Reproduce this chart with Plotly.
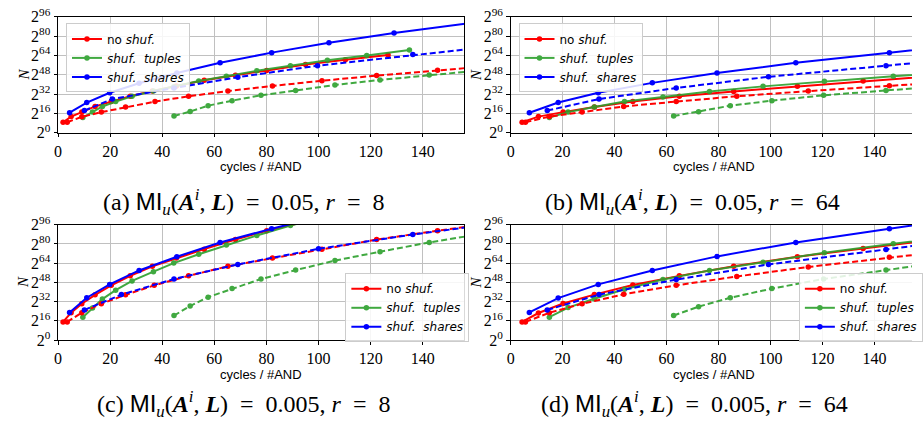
import plotly.graph_objects as go

# ---------------------------------------------------------------------------
# Data: x = cycles / #AND, y = log2(N).  "hi" = solid curves, "lo" = dashed.
# Points past the axis limits keep the curves running to the frame edge.
# ---------------------------------------------------------------------------

# (a) MI = 0.05, r = 8
a_plain_hi_x = [1.9, 5.0, 9.1, 14.2, 20.4, 27.7, 36.2, 45.4, 56.1, 68.1, 80.1, 95.0, 110.3, 126.7]
a_plain_hi_y = [8.7, 13.4, 17.1, 21.8, 25.8, 30.2, 34.5, 38.7, 43.4, 47.6, 51.6, 56.5, 60.5, 64.4]
a_plain_lo_x = [3.5, 9.1, 16.6, 25.9, 37.2, 50.1, 65.2, 82.3, 101.3, 122.3, 145.7, 171.0]
a_plain_lo_y = [8.7, 13.2, 17.1, 21.3, 25.8, 30.2, 34.5, 38.7, 43.1, 47.3, 51.8, 56.2]
a_tup_hi_x = [9.5, 13.2, 17.0, 22.1, 28.4, 36.6, 44.4, 54.0, 64.6, 76.3, 89.2, 103.4, 118.5, 134.9]
a_tup_hi_y = [12.6, 17.1, 21.8, 25.8, 30.2, 34.5, 38.1, 42.9, 46.8, 51.3, 55.5, 60.0, 63.9, 68.4]
a_tup_lo_x = [44.5, 50.7, 57.6, 66.8, 77.9, 91.2, 106.3, 123.6, 142.5, 166.0]
a_tup_lo_y = [13.9, 17.6, 22.4, 26.6, 31.0, 35.0, 39.5, 43.7, 47.9, 52.4]
a_sh_hi_x = [4.4, 11.0, 19.8, 31.1, 45.6, 62.2, 82.0, 104.0, 129.0, 159.5]
a_sh_hi_y = [16.6, 25.0, 33.1, 41.0, 49.4, 57.9, 66.3, 74.4, 82.6, 91.0]
a_sh_lo_x = [10.1, 20.8, 44.5, 69.0, 99.6, 136.2, 178.0]
a_sh_lo_y = [18.4, 27.9, 37.1, 46.0, 55.5, 64.7, 74.0]

# (b) MI = 0.05, r = 64
b_plain_hi_x = [4.4, 10.7, 20.2, 32.2, 47.0, 64.9, 85.8, 110.3, 135.6, 165.0]
b_plain_hi_y = [8.7, 13.4, 17.1, 21.3, 25.8, 30.2, 34.2, 38.4, 42.9, 47.3]
b_plain_lo_x = [5.7, 14.9, 27.5, 43.5, 63.7, 87.0, 114.5, 145.7, 178.0]
b_plain_lo_y = [8.7, 13.4, 17.1, 21.8, 25.8, 30.2, 34.5, 38.9, 43.3]
b_tup_hi_x = [14.9, 22.1, 32.2, 43.8, 58.6, 76.5, 97.1, 120.7, 147.2, 177.0]
b_tup_hi_y = [12.6, 17.1, 21.3, 25.8, 29.7, 34.2, 38.4, 42.6, 46.8, 51.0]
b_tup_lo_x = [62.7, 72.3, 84.5, 100.5, 120.4, 144.4, 170.0]
b_tup_lo_y = [13.9, 17.4, 22.4, 26.6, 31.0, 35.0, 39.3]
b_sh_hi_x = [7.2, 18.3, 33.7, 54.5, 79.4, 109.7, 145.7, 183.0]
b_sh_hi_y = [16.6, 25.0, 33.1, 41.3, 49.4, 57.9, 66.3, 74.5]
b_sh_lo_x = [14.1, 34.0, 63.7, 99.2, 144.4, 190.0]
b_sh_lo_y = [18.4, 27.9, 37.1, 46.3, 55.5, 64.7]

# (c) MI = 0.005, r = 8
c_plain_hi_x = [1.9, 5.0, 9.1, 14.2, 20.4, 27.7, 36.2, 45.4, 56.1, 68.1, 80.1, 95.0]
c_plain_hi_y = [15.1, 22.8, 30.2, 37.6, 45.5, 53.4, 61.4, 68.2, 75.6, 83.6, 91.0, 98.5]
c_plain_lo_x = [3.5, 9.1, 16.6, 25.9, 36.9, 50.1, 65.2, 82.3, 101.3, 122.3, 145.7, 170.0]
c_plain_lo_y = [15.1, 22.8, 30.2, 37.6, 45.5, 53.4, 61.4, 68.2, 75.6, 83.6, 91.0, 98.0]
c_tup_hi_x = [9.5, 13.2, 17.0, 22.1, 28.4, 36.6, 44.4, 54.0, 64.6, 76.3, 89.2, 103.4]
c_tup_hi_y = [19.0, 26.6, 34.1, 41.5, 49.2, 56.9, 64.0, 71.4, 79.0, 87.0, 95.2, 103.0]
c_tup_lo_x = [44.5, 50.7, 57.6, 66.8, 77.9, 91.2, 106.3, 123.6, 142.5, 166.0]
c_tup_lo_y = [20.4, 28.3, 35.7, 42.8, 50.8, 58.2, 66.1, 73.5, 81.2, 89.5]
c_sh_hi_x = [4.4, 11.0, 19.8, 31.1, 45.6, 62.2, 82.0, 103.0]
c_sh_hi_y = [23.0, 35.2, 46.3, 57.9, 69.3, 81.2, 92.6, 104.0]
c_sh_lo_x = [10.1, 24.3, 44.5, 69.0, 100.0, 136.2, 175.0]
c_sh_lo_y = [25.1, 37.8, 50.8, 62.9, 75.9, 87.8, 99.0]

# (d) MI = 0.005, r = 64
d_plain_hi_x = [4.4, 10.7, 20.2, 32.2, 47.0, 64.9, 85.8, 110.3, 135.6, 165.0]
d_plain_hi_y = [15.1, 22.5, 30.4, 37.8, 45.8, 53.4, 61.4, 69.3, 76.2, 84.0]
d_plain_lo_x = [5.7, 14.9, 27.5, 43.5, 63.7, 87.0, 114.5, 145.7, 178.0]
d_plain_lo_y = [15.1, 22.7, 30.2, 38.1, 45.5, 52.9, 60.8, 68.8, 76.5]
d_tup_hi_x = [14.9, 22.1, 32.2, 43.8, 58.6, 76.5, 97.1, 120.7, 147.2, 177.0]
d_tup_hi_y = [19.0, 27.0, 34.4, 42.3, 50.3, 57.9, 64.8, 72.7, 80.1, 88.0]
d_tup_lo_x = [62.7, 72.3, 84.5, 100.5, 120.4, 144.4, 170.0]
d_tup_lo_y = [20.4, 27.8, 35.2, 42.8, 50.8, 58.2, 66.0]
d_sh_hi_x = [7.2, 18.3, 33.7, 54.5, 79.4, 109.7, 145.7, 183.0]
d_sh_hi_y = [23.0, 34.9, 46.3, 57.9, 69.6, 81.2, 92.6, 104.0]
d_sh_lo_x = [14.1, 34.0, 63.7, 99.2, 144.4, 190.0]
d_sh_lo_y = [25.1, 37.8, 50.3, 62.9, 75.4, 88.0]

# legend labels, tick labels, captions
method_names = ["no <i>shuf.</i>", "<i>shuf.  tuples</i>", "<i>shuf.  shares</i>"]
x_ticks = [0, 20, 40, 60, 80, 100, 120, 140]
y_tick_exps = [0, 16, 32, 48, 64, 80, 96]
panel_tags = ["a", "b", "c", "d"]
mi_values = ["0.05", "0.05", "0.005", "0.005"]
r_values = ["8", "64", "8", "64"]

panels = [
    [(a_plain_hi_x, a_plain_hi_y, a_plain_lo_x, a_plain_lo_y),
     (a_tup_hi_x, a_tup_hi_y, a_tup_lo_x, a_tup_lo_y),
     (a_sh_hi_x, a_sh_hi_y, a_sh_lo_x, a_sh_lo_y)],
    [(b_plain_hi_x, b_plain_hi_y, b_plain_lo_x, b_plain_lo_y),
     (b_tup_hi_x, b_tup_hi_y, b_tup_lo_x, b_tup_lo_y),
     (b_sh_hi_x, b_sh_hi_y, b_sh_lo_x, b_sh_lo_y)],
    [(c_plain_hi_x, c_plain_hi_y, c_plain_lo_x, c_plain_lo_y),
     (c_tup_hi_x, c_tup_hi_y, c_tup_lo_x, c_tup_lo_y),
     (c_sh_hi_x, c_sh_hi_y, c_sh_lo_x, c_sh_lo_y)],
    [(d_plain_hi_x, d_plain_hi_y, d_plain_lo_x, d_plain_lo_y),
     (d_tup_hi_x, d_tup_hi_y, d_tup_lo_x, d_tup_lo_y),
     (d_sh_hi_x, d_sh_hi_y, d_sh_lo_x, d_sh_lo_y)],
]

# ---------------------------------------------------------------------------
# Layout geometry (pixels in a 923 x 433 page)
# ---------------------------------------------------------------------------
W, H = 923, 433
# left, right, top, bottom of each plotting area
boxes = [
    (55, 468, 6, 127.7),
    (515, 923, 6, 127.7),
    (55, 468, 224, 345),
    (515, 923, 224, 345),
]
x_ranges = [[0, 156], [0, 154.4], [0, 156], [0, 154.4]]
legend_pos = [(63, 13), (523, 13), (347, 275), (808, 275)]
caption_pos = [(243, 200), (700, 200), (243, 412), (702, 412)]
xtitle_pos = [(261, 163), (722, 163), (261, 381), (722, 381)]

colors = ["#ff0000", "#2ca02c", "#0000ff"]
SERIF = "Liberation Serif, Times New Roman, serif"
SANS = "DejaVu Sans, sans-serif"

fig = go.Figure()
layout = dict(
    width=W, height=H,
    margin=dict(l=0, r=0, t=0, b=0),
    paper_bgcolor="white", plot_bgcolor="white",
    showlegend=True,
)
annotations = []

for p, series in enumerate(panels):
    k = p + 1
    xa = "x" if k == 1 else f"x{k}"
    ya = "y" if k == 1 else f"y{k}"
    lg = "legend" if k == 1 else f"legend{k}"
    left, right, top, bottom = boxes[p]

    # solid curves first, dashed afterwards
    for style in ("hi", "lo"):
        for m, (hx, hy, lx, ly) in enumerate(series):
            xs, ys = (hx, hy) if style == "hi" else (lx, ly)
            fig.add_trace(go.Scatter(
                x=xs, y=ys, mode="lines+markers",
                name=method_names[m],
                line=dict(color=colors[m], width=2,
                          dash="solid" if style == "hi" else "6px,3px"),
                marker=dict(color=colors[m], size=5.5),
                opacity=0.9 if m == 1 else 1.0,
                showlegend=(style == "hi"),
                legend=lg,
                xaxis=xa, yaxis=ya,
                hoverinfo="skip",
            ))

    full_box = p in (0, 2)
    layout["xaxis" if k == 1 else f"xaxis{k}"] = dict(
        domain=[left / W, right / W],
        anchor=ya,
        range=x_ranges[p],
        tickvals=x_ticks,
        ticks="outside", ticklen=3.5, tickcolor="black",
        showline=True, linecolor="black", linewidth=1.2, mirror=True,
        showgrid=True, gridcolor="#c0c0c0", gridwidth=1,
        zeroline=False,
        tickfont=dict(family=SERIF, size=16, color="black"),
    )
    layout["yaxis" if k == 1 else f"yaxis{k}"] = dict(
        domain=[1 - bottom / H, 1 - top / H],
        anchor=xa,
        range=[0, 96],
        tickvals=y_tick_exps,
        ticktext=[f"2<sup>{e}</sup>" for e in y_tick_exps],
        ticks="outside", ticklen=3.5, tickcolor="black",
        showline=True, linecolor="black", linewidth=1.2, mirror=full_box,
        showgrid=True, gridcolor="#c0c0c0", gridwidth=1,
        zeroline=False,
        tickfont=dict(family=SERIF, size=16, color="black"),
    )

    lx_, ly_ = legend_pos[p]
    layout[lg] = dict(
        x=lx_ / W, y=1 - ly_ / H, xanchor="left", yanchor="top",
        xref="paper", yref="paper",
        bgcolor="rgba(255,255,255,0.85)",
        bordercolor="#cccccc", borderwidth=1,
        font=dict(family=SANS, size=12, color="black"),
        itemwidth=30, tracegroupgap=0,
    )

    # axis titles
    annotations.append(dict(
        text="<i>N</i>", x=(left - 35) / W, y=1 - (top + bottom) / 2 / H,
        xref="paper", yref="paper", showarrow=False, textangle=-90,
        xanchor="center", yanchor="middle",
        font=dict(family=SERIF, size=15, color="black"),
    ))
    tx, ty = xtitle_pos[p]
    annotations.append(dict(
        text="cycles / #AND", x=tx / W, y=1 - ty / H,
        xref="paper", yref="paper", showarrow=False,
        xanchor="center", yanchor="middle",
        font=dict(family="Liberation Sans, Arial, sans-serif", size=13, color="black"),
    ))

    # caption under the panel
    cx, cy = caption_pos[p]
    cap = (f"({panel_tags[p]}) "
           "<span style='font-family:Liberation Sans'>MI</span><sub><i>u</i></sub>"
           "(<b><i>A</i></b><sup><i>i</i></sup>, <b><i>L</i></b>)"
           f"\u2002=\u2002{mi_values[p]}, <i>r</i>\u2002=\u2002{r_values[p]}")
    annotations.append(dict(
        text=cap, x=cx / W, y=1 - cy / H,
        xref="paper", yref="paper", showarrow=False,
        xanchor="center", yanchor="middle",
        font=dict(family=SERIF, size=24, color="black"),
    ))

layout["annotations"] = annotations
fig.update_layout(**layout)
fig.write_html("out.html")
